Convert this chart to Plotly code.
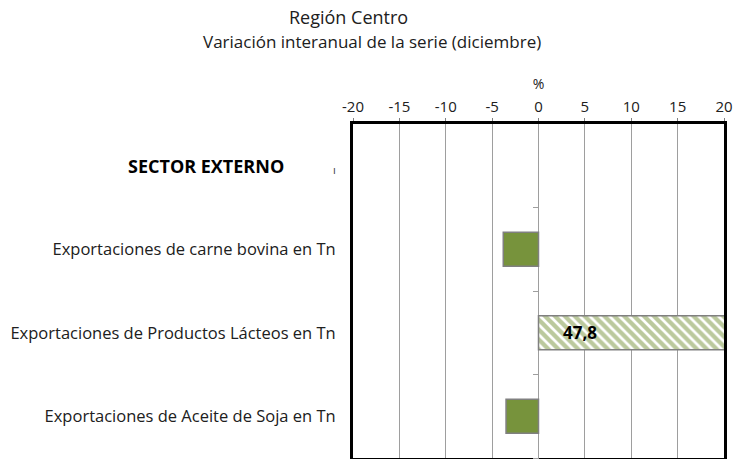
import plotly.graph_objects as go

categories = ["SECTOR EXTERNO",
              "Exportaciones de carne bovina en Tn",
              "Exportaciones de Productos Lácteos en Tn",
              "Exportaciones de Aceite de Soja en Tn"]
header_flags = [True, False, False, False]
values = [None, -3.8, 47.8, -3.5]
hatched = [False, False, True, False]
x_ticks = [-20, -15, -10, -5, 0, 5, 10, 15, 20]
boundaries = [0.5, 1.5, 2.5, 3.5]
title_lines = ["Región Centro", "Variación interanual de la serie (diciembre)"]

GREEN = "#77933C"
FONT = "Open Sans"
W, H = 739, 459
L, R, T, B = 353, 15, 124, 1
PW, PH = W - L - R, H - T - B


def px_to_paper(px, py):
    return (px - L) / PW, (H - B - py) / PH


fig = go.Figure()
fig.add_trace(go.Bar(
    y=list(range(len(categories))),
    x=values,
    orientation="h",
    width=0.41,
    marker=dict(
        color=GREEN,
        line=dict(color="#808080", width=1.5),
        pattern=dict(
            shape=["\\" if h else "" for h in hatched],
            fgcolor=GREEN,
            bgcolor="white",
            size=7,
            solidity=0.62,
        ),
    ),
    showlegend=False,
    hoverinfo="skip",
))
# invisible copy on the overlaying axis so that its boundary ticks on the zero line are drawn
fig.add_trace(go.Bar(
    y=list(range(len(categories))), x=values, orientation="h",
    yaxis="y2", opacity=0, showlegend=False, hoverinfo="skip",
))

# value label for the clipped (hatched) bar
for i, (v, h) in enumerate(zip(values, hatched)):
    if h:
        fig.add_annotation(x=4.5, y=i, xref="x", yref="y",
                           text="<b>" + f"{v:.1f}".replace(".", ",") + "</b>",
                           showarrow=False,
                           font=dict(family=FONT, size=17, color="black"))

# header category label (bold), drawn as annotation
for i, (c, hd) in enumerate(zip(categories, header_flags)):
    if hd:
        fig.add_annotation(x=px_to_paper(286, 0)[0], y=i, xref="paper", yref="y",
                           text="<b>" + c + "</b>", showarrow=False,
                           xanchor="right", yanchor="middle",
                           font=dict(family=FONT, size=18, color="black"))
        fig.add_annotation(x=px_to_paper(334, 0)[0], y=i + 0.05, xref="paper", yref="y",
                           text="ı", showarrow=False, xanchor="center", yanchor="middle",
                           font=dict(family=FONT, size=11, color="#404040"))

# title lines
for txt, cx, cy, fs in zip(title_lines, [348, 372], [17, 42], [18, 17]):
    px, py = px_to_paper(cx, cy)
    fig.add_annotation(x=px, y=py, xref="paper", yref="paper", text=txt,
                       showarrow=False, xanchor="center", yanchor="middle",
                       font=dict(family=FONT, size=fs, color="#202020"))

fig.update_layout(
    width=W, height=H,
    margin=dict(l=L, r=R, t=T, b=B, autoexpand=False),
    plot_bgcolor="white", paper_bgcolor="white",
    font=dict(family=FONT, color="#000000"),
    barmode="overlay",
    xaxis=dict(
        side="top", range=[-20, 20], tickvals=x_ticks,
        ticktext=[str(t) for t in x_ticks],
        showgrid=True, gridcolor="#9E9E9E", gridwidth=1,
        zeroline=False,
        showline=True, linecolor="black", linewidth=3, mirror=True,
        ticks="outside", ticklen=3, tickcolor="#808080",
        tickfont=dict(family=FONT, size=15, color="#202020"),
        title=dict(text="%", font=dict(family=FONT, size=14, color="#202020"), standoff=4),
        automargin=False, fixedrange=True,
    ),
    yaxis=dict(
        range=[3.5, -0.5],
        tickvals=list(range(len(categories))),
        ticktext=["" if hd else c for c, hd in zip(categories, header_flags)],
        showgrid=False, zeroline=False,
        showline=True, linecolor="black", linewidth=3, mirror=True,
        ticks="", ticklabelstandoff=11,
        tickfont=dict(family=FONT, size=16.5, color="#202020"),
        automargin=False, fixedrange=True,
    ),
    yaxis2=dict(
        overlaying="y", anchor="free", position=0.5, side="left",
        range=[3.5, -0.5], tickvals=boundaries,
        showticklabels=False, showgrid=False, zeroline=False, showline=False,
        ticks="outside", ticklen=6, tickcolor="#9E9E9E", tickwidth=1,
        automargin=False, fixedrange=True,
    ),
)

fig.write_html("out.html", config={"displayModeBar": False},
               post_script="document.body.style.margin='0';")
